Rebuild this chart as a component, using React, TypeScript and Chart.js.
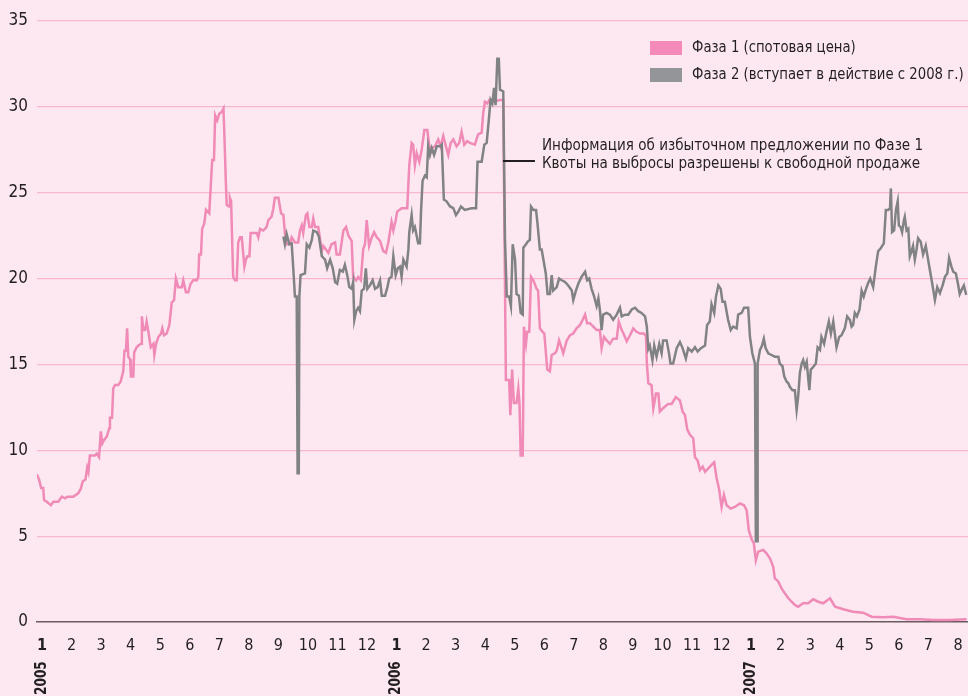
import { useEffect, useRef } from "react";
import { Chart, registerables } from "chart.js";

Chart.register(...registerables);

const FONT = "'Liberation Sans Narrow', 'DejaVu Sans Condensed', 'Arial Narrow', sans-serif";
const TEXT = "#231f20";
const BG = "#fde8f1";

// Months since January 2005 (0 = Jan 2005), value in EUR/t
const phase1: [number, number][] = [
  [-0.18,8.6],[-0.10,8.3],[-0.03,7.8],[0.04,7.8],[0.07,7.1],[0.16,7.0],[0.30,6.8],[0.38,7.0],[0.55,7.0],[0.67,7.3],
  [0.78,7.2],[0.86,7.3],[1.06,7.3],[1.23,7.5],[1.31,7.75],[1.38,8.2],[1.47,8.3],[1.53,9.0],[1.57,8.75],[1.62,9.7],
  [1.79,9.7],[1.85,9.8],[1.93,9.6],[1.99,11.1],[2.04,10.4],[2.10,10.6],[2.19,10.8],[2.28,11.3],[2.30,11.9],[2.37,11.9],
  [2.41,13.6],[2.47,13.8],[2.58,13.8],[2.66,14.0],[2.75,14.6],[2.79,15.8],[2.84,15.8],[2.88,17.1],[2.92,15.45],[2.98,15.3],
  [3.01,14.3],[3.09,14.3],[3.12,15.7],[3.20,16.0],[3.26,16.1],[3.35,16.2],[3.38,17.8],[3.43,17.0],[3.49,17.0],[3.54,17.5],
  [3.61,16.8],[3.68,16.0],[3.77,16.2],[3.80,15.55],[3.86,16.2],[3.94,16.6],[4.03,16.8],[4.07,17.1],[4.13,16.7],[4.22,16.8],
  [4.31,17.3],[4.39,18.6],[4.47,18.75],[4.53,20.0],[4.61,19.5],[4.73,19.5],[4.78,19.9],[4.87,19.2],[4.95,19.2],[5.03,19.7],
  [5.12,19.9],[5.24,19.9],[5.29,20.1],[5.32,21.4],[5.38,21.4],[5.42,22.9],[5.49,23.2],[5.55,24.0],[5.66,23.8],[5.71,25.35],
  [5.76,26.9],[5.82,26.9],[5.86,29.5],[5.93,29.2],[6.00,29.6],[6.08,29.7],[6.14,29.9],[6.17,28.5],[6.22,25.7],[6.25,24.3],
  [6.33,24.2],[6.36,24.7],[6.40,24.5],[6.44,21.9],[6.47,20.1],[6.53,19.9],[6.59,19.9],[6.64,22.1],[6.70,22.4],[6.76,22.4],
  [6.85,20.7],[6.90,21.1],[6.95,21.3],[7.02,21.3],[7.06,22.65],[7.27,22.65],[7.32,22.4],[7.38,22.9],[7.49,22.8],[7.60,23.0],
  [7.66,23.4],[7.77,23.6],[7.83,24.1],[7.88,24.7],[8.00,24.7],[8.03,24.4],[8.09,23.8],[8.17,23.7],[8.22,22.65],[8.28,22.0],
  [8.39,22.0],[8.45,22.4],[8.56,22.1],[8.67,22.1],[8.73,22.8],[8.79,23.1],[8.84,22.65],[8.93,23.7],[8.98,23.8],[9.05,23.0],
  [9.13,23.0],[9.18,23.5],[9.24,23.0],[9.35,23.0],[9.47,21.6],[9.52,21.9],[9.69,21.5],[9.80,22.0],[9.92,22.1],[9.97,21.4],
  [10.08,21.4],[10.20,22.8],[10.29,23.0],[10.37,22.5],[10.48,22.2],[10.53,20.1],[10.63,19.9],[10.70,20.1],[10.79,19.9],[10.87,21.7],
  [10.93,22.0],[10.99,23.4],[11.07,21.9],[11.16,22.4],[11.24,22.7],[11.33,22.4],[11.44,22.2],[11.55,21.6],[11.64,21.5],[11.72,22.1],
  [11.83,23.3],[11.89,22.8],[11.97,23.4],[12.02,23.9],[12.17,24.1],[12.28,24.1],[12.36,24.1],[12.43,26.6],[12.51,27.9],[12.56,27.8],
  [12.62,26.6],[12.68,27.3],[12.77,26.8],[12.85,27.5],[12.94,28.65],[13.04,28.65],[13.11,27.7],[13.19,27.6],[13.30,27.7],[13.41,28.1],
  [13.49,27.7],[13.58,28.3],[13.67,27.7],[13.75,27.2],[13.83,27.9],[13.92,28.1],[14.03,27.7],[14.12,27.9],[14.20,28.55],[14.29,27.8],
  [14.39,28.0],[14.48,27.9],[14.65,27.8],[14.76,28.4],[14.88,28.5],[14.93,29.6],[14.99,30.3],[15.07,30.2],[15.14,30.4],[15.30,30.3],
  [15.49,30.4],[15.61,30.4],[15.70,14.1],[15.81,14.1],[15.85,12.05],[15.91,14.7],[15.97,12.75],[16.06,12.75],[16.12,13.6],[16.16,12.75],
  [16.20,9.7],[16.27,9.7],[16.31,17.2],[16.38,16.2],[16.42,16.9],[16.49,16.9],[16.55,20.1],[16.63,19.9],[16.74,19.4],[16.79,19.3],
  [16.85,17.1],[16.94,16.9],[17.00,16.8],[17.10,14.7],[17.19,14.6],[17.25,15.55],[17.36,15.65],[17.42,15.8],[17.50,16.4],[17.56,16.1],
  [17.64,15.65],[17.76,16.4],[17.87,16.7],[17.98,16.8],[18.09,17.1],[18.21,17.3],[18.30,17.6],[18.38,17.9],[18.45,17.4],[18.54,17.4],
  [18.66,17.2],[18.77,17.0],[18.88,17.0],[18.94,15.95],[19.02,16.6],[19.11,16.4],[19.22,16.2],[19.33,16.5],[19.45,16.5],[19.52,17.5],
  [19.62,17.0],[19.68,16.8],[19.79,16.35],[19.90,16.7],[20.01,17.1],[20.12,16.9],[20.24,16.8],[20.37,16.8],[20.44,16.65],[20.47,15.1],
  [20.52,13.9],[20.63,13.8],[20.69,12.45],[20.78,13.3],[20.86,13.3],[20.91,12.25],[21.02,12.45],[21.19,12.7],[21.31,12.7],[21.45,13.1],
  [21.59,12.9],[21.68,12.25],[21.76,12.05],[21.84,11.2],[21.93,10.9],[22.04,10.7],[22.10,9.6],[22.19,9.4],[22.27,8.85],[22.36,9.05],
  [22.44,8.75],[22.55,8.95],[22.66,9.15],[22.75,9.3],[22.83,8.4],[22.92,7.7],[23.00,6.7],[23.08,7.4],[23.17,6.8],[23.31,6.6],
  [23.45,6.7],[23.62,6.9],[23.76,6.8],[23.85,6.5],[23.92,5.35],[24.02,4.8],[24.09,4.6],[24.16,3.6],[24.24,4.1],[24.41,4.2],
  [24.52,4.0],[24.64,3.7],[24.75,3.2],[24.80,2.55],[24.92,2.35],[25.03,1.96],[25.14,1.67],[25.26,1.38],[25.37,1.18],[25.48,0.99],
  [25.59,0.89],[25.76,1.09],[25.93,1.09],[26.10,1.32],[26.27,1.18],[26.44,1.09],[26.67,1.38],[26.84,0.89],[27.12,0.74],[27.45,0.6],
  [27.79,0.54],[28.08,0.31],[28.47,0.27],[28.81,0.31],[29.26,0.16],[29.71,0.16],[30.16,0.12],[30.73,0.12],[31.29,0.16],
];

const phase2: [number, number][] = [
  [8.17,22.45],[8.22,22.0],[8.28,22.6],[8.37,22.0],[8.45,22.05],[8.50,20.7],[8.56,18.95],[8.62,18.95],[8.65,8.66],[8.69,8.66],
  [8.71,18.95],[8.75,20.2],[8.90,20.3],[8.96,22.0],[9.05,21.8],[9.13,22.25],[9.18,22.8],[9.30,22.7],[9.37,22.45],[9.47,21.3],
  [9.58,21.1],[9.65,20.6],[9.75,21.1],[9.84,20.6],[9.92,19.8],[9.99,19.7],[10.08,20.5],[10.18,20.4],[10.25,20.8],[10.33,20.2],
  [10.40,19.5],[10.48,19.4],[10.53,19.8],[10.57,17.6],[10.63,18.1],[10.70,18.3],[10.76,18.1],[10.82,19.3],[10.90,19.4],[10.96,20.6],
  [11.01,19.4],[11.10,19.6],[11.19,19.9],[11.27,19.4],[11.36,19.5],[11.44,19.9],[11.50,19.0],[11.61,19.0],[11.69,19.5],[11.75,20.0],
  [11.83,20.1],[11.89,21.3],[11.97,20.2],[12.04,20.6],[12.12,20.7],[12.17,20.1],[12.23,21.1],[12.34,20.7],[12.40,21.7],[12.43,22.7],
  [12.51,23.7],[12.56,22.8],[12.62,23.0],[12.68,22.5],[12.73,22.05],[12.79,22.05],[12.83,24.0],[12.88,25.7],[12.96,26.0],[13.02,25.9],
  [13.07,27.7],[13.13,27.2],[13.19,27.6],[13.27,27.2],[13.36,27.7],[13.47,27.7],[13.53,27.8],[13.60,24.6],[13.69,24.5],[13.81,24.2],
  [13.92,24.1],[14.01,23.7],[14.09,23.9],[14.18,24.2],[14.31,24.0],[14.54,24.1],[14.69,24.1],[14.74,26.8],[14.88,26.8],[14.97,27.8],
  [15.05,27.9],[15.13,29.4],[15.18,30.4],[15.24,30.2],[15.30,31.1],[15.35,30.1],[15.41,32.8],[15.46,32.8],[15.50,31.0],[15.61,30.9],
  [15.67,22.25],[15.73,18.95],[15.81,18.95],[15.87,18.4],[15.93,22.0],[16.01,21.1],[16.06,19.1],[16.14,19.0],[16.20,18.0],[16.27,17.9],
  [16.29,21.8],[16.38,22.0],[16.44,22.15],[16.51,22.25],[16.55,24.2],[16.63,24.0],[16.72,24.0],[16.77,23.2],[16.85,21.7],[16.91,21.7],
  [16.96,21.2],[17.05,20.3],[17.11,19.1],[17.19,19.1],[17.25,20.2],[17.30,19.3],[17.42,19.5],[17.50,20.0],[17.59,19.9],[17.70,19.8],
  [17.81,19.6],[17.93,19.3],[17.98,18.75],[18.07,19.3],[18.15,19.7],[18.26,20.1],[18.38,20.4],[18.45,19.9],[18.52,20.0],[18.60,19.4],
  [18.68,19.0],[18.77,18.4],[18.83,18.85],[18.88,18.2],[18.94,17.0],[18.99,17.9],[19.11,18.0],[19.22,17.9],[19.33,17.6],[19.45,17.9],
  [19.56,18.3],[19.62,17.8],[19.73,17.9],[19.84,17.9],[19.96,18.2],[20.07,18.3],[20.18,18.1],[20.29,18.0],[20.41,17.8],[20.47,17.2],
  [20.52,15.9],[20.57,16.1],[20.66,15.25],[20.72,16.1],[20.80,15.45],[20.89,16.2],[20.97,15.65],[21.02,16.4],[21.14,16.4],[21.22,15.65],
  [21.27,15.05],[21.36,15.05],[21.48,15.95],[21.59,16.3],[21.68,15.95],[21.79,15.35],[21.87,15.95],[21.99,15.75],[22.10,16.0],[22.19,15.75],
  [22.30,15.95],[22.44,16.1],[22.51,17.3],[22.60,17.5],[22.66,18.5],[22.75,18.0],[22.81,18.95],[22.89,19.6],[22.97,19.4],[23.03,18.65],
  [23.11,18.65],[23.22,17.6],[23.31,17.0],[23.39,17.2],[23.51,17.1],[23.56,17.9],[23.68,18.0],[23.76,18.3],[23.90,18.3],[23.96,16.6],
  [24.04,15.65],[24.13,15.05],[24.16,4.7],[24.20,4.7],[24.22,15.05],[24.30,15.85],[24.37,16.1],[24.43,16.5],[24.49,15.95],[24.58,15.65],
  [24.69,15.55],[24.80,15.45],[24.92,15.45],[24.97,15.05],[25.06,14.9],[25.12,14.3],[25.20,14.0],[25.26,13.9],[25.31,13.7],[25.40,13.5],
  [25.48,13.5],[25.54,12.35],[25.59,13.1],[25.65,14.5],[25.71,15.05],[25.76,15.25],[25.82,14.85],[25.88,15.15],[25.97,13.5],[26.02,14.7],
  [26.10,14.85],[26.19,15.05],[26.25,16.0],[26.33,15.85],[26.38,16.6],[26.47,16.2],[26.55,16.9],[26.63,17.5],[26.70,16.8],[26.78,17.5],
  [26.89,16.0],[26.98,16.6],[27.06,16.7],[27.17,17.1],[27.25,17.8],[27.34,17.6],[27.40,17.2],[27.45,17.3],[27.51,18.0],[27.58,17.8],
  [27.67,18.2],[27.74,19.3],[27.81,18.95],[27.87,19.3],[27.95,19.7],[28.03,20.0],[28.13,19.5],[28.22,20.7],[28.30,21.6],[28.38,21.75],
  [28.49,22.05],[28.56,24.0],[28.64,24.0],[28.70,24.1],[28.73,25.25],[28.77,22.7],[28.84,22.8],[28.90,24.0],[28.96,24.5],[29.00,23.1],
  [29.06,23.0],[29.11,22.7],[29.17,23.4],[29.20,23.6],[29.26,22.8],[29.32,22.9],[29.37,21.3],[29.43,21.6],[29.48,21.9],[29.54,21.1],
  [29.60,21.7],[29.65,22.35],[29.74,22.15],[29.82,21.4],[29.91,21.9],[29.99,21.1],[30.05,20.5],[30.11,19.9],[30.22,18.75],[30.30,19.5],
  [30.39,19.15],[30.48,19.6],[30.56,20.1],[30.64,20.3],[30.70,21.2],[30.78,20.7],[30.84,20.4],[30.93,20.3],[31.00,19.7],[31.06,19.1],
  [31.14,19.4],[31.20,19.6],[31.28,19.05],
];

const monthLabels = [
  "1","2","3","4","5","6","7","8","9","10","11","12",
  "1","2","3","4","5","6","7","8","9","10","11","12",
  "1","2","3","4","5","6","7","8",
];
const yearTickMonths = [0, 12, 24];
const yearLabels = ["2005", "2006", "2007"];
const yTickValues = [0, 5, 10, 15, 20, 25, 30, 35];
const seriesNames = ["Фаза 1 (спотовая цена)", "Фаза 2 (вступает в действие с 2008 г.)"];
const seriesColors = ["#f08ab7", "#808284"];
const legendColors = ["#f48ab9", "#939598"];
const noteLines = [
  "Информация об избыточном предложении по Фазе 1",
  "Квоты на выбросы разрешены к свободной продаже",
];
const noteMonth = 15.6;
const noteValue = 26.85;

function condensedText(ctx: any, text: string, x: number, y: number, squeeze: number) {
  ctx.save();
  ctx.translate(x, y);
  ctx.scale(squeeze, 1);
  ctx.fillText(text, 0, 0);
  ctx.restore();
}

const overlayPlugin = {
  id: "overlay",
  beforeDraw(chart: any) {
    const ctx = chart.ctx;
    ctx.save();
    ctx.fillStyle = BG;
    ctx.fillRect(0, 0, chart.width, chart.height);
    ctx.restore();
  },
  afterDraw(chart: any) {
    const { ctx } = chart;
    const x = chart.scales.x;
    const y = chart.scales.y;
    ctx.save();
    ctx.fillStyle = TEXT;
    // year labels (rotated)
    ctx.font = `bold 15px ${FONT}`;
    yearTickMonths.forEach((m, i) => {
      const px = x.getPixelForValue(m);
      ctx.save();
      ctx.translate(px, 695);
      ctx.rotate(-Math.PI / 2);
      ctx.scale(0.9, 1);
      ctx.textAlign = "left";
      ctx.textBaseline = "middle";
      ctx.fillText(yearLabels[i], 0, 0);
      ctx.restore();
    });
    // legend
    ctx.font = `16px ${FONT}`;
    ctx.textAlign = "left";
    ctx.textBaseline = "middle";
    seriesNames.forEach((name, i) => {
      const top = 41 + i * 27;
      ctx.fillStyle = legendColors[i];
      ctx.fillRect(650, top, 32, 14);
      ctx.fillStyle = TEXT;
      condensedText(ctx, name, 692, top + 7, 0.92);
    });
    // annotation
    const ax = x.getPixelForValue(noteMonth);
    const ay = Math.round(y.getPixelForValue(noteValue));
    ctx.strokeStyle = "#231f20";
    ctx.lineWidth = 2;
    ctx.beginPath();
    ctx.moveTo(ax, ay);
    ctx.lineTo(ax + 32, ay);
    ctx.stroke();
    ctx.font = `16px ${FONT}`;
    ctx.fillStyle = TEXT;
    condensedText(ctx, noteLines[0], ax + 39, ay - 15, 0.94);
    condensedText(ctx, noteLines[1], ax + 39, ay + 3, 0.94);
    ctx.restore();
  },
};

export default function App() {
  const ref = useRef<HTMLCanvasElement | null>(null);
  useEffect(() => {
    document.body.style.margin = "0";
    const canvas = ref.current;
    if (!canvas) return;
    const chart = new Chart(canvas, {
      type: "line",
      data: {
        datasets: [
          {
            label: seriesNames[0],
            data: phase1.map(([m, v]) => ({ x: m, y: v })),
            borderColor: seriesColors[0],
            borderWidth: 2.5,
            pointRadius: 0,
            tension: 0,
            order: 1,
          },
          {
            label: seriesNames[1],
            data: phase2.map(([m, v]) => ({ x: m, y: v })),
            borderColor: seriesColors[1],
            borderWidth: 2.5,
            pointRadius: 0,
            tension: 0,
            order: 0,
          },
        ],
      },
      options: {
        animation: false,
        responsive: false,
        devicePixelRatio: 1,
        layout: { padding: { top: 21, left: 0, right: 0, bottom: 0 } },
        plugins: { legend: { display: false }, tooltip: { enabled: false } },
        scales: {
          x: {
            type: "linear",
            min: -0.17,
            max: 31.34,
            afterBuildTicks: (scale: any) => {
              scale.ticks = monthLabels.map((_, i) => ({ value: i }));
            },
            afterFit: (scale: any) => {
              scale.height = 74;
            },
            grid: { display: false, drawTicks: false },
            border: { display: true, color: "#6b5b61", width: 1.5 },
            ticks: {
              autoSkip: false,
              maxRotation: 0,
              padding: 0,
              color: TEXT,
              font: (c: any) => ({
                family: FONT,
                size: 16,
                lineHeight: 2.95,
                weight: c.tick && c.tick.value % 12 === 0 ? "bold" : "normal",
              }),
              callback: (v: any) => monthLabels[Math.round(v)] ?? "",
            },
          },
          y: {
            min: 0,
            max: 35,
            afterBuildTicks: (scale: any) => {
              scale.ticks = yTickValues.map((v) => ({ value: v }));
            },
            afterFit: (scale: any) => {
              scale.width = 37;
            },
            grid: {
              drawTicks: false,
              color: (c: any) => (c.tick && c.tick.value === 0 ? "rgba(0,0,0,0)" : "#f6b7cf"),
              lineWidth: 1.2,
            },
            border: { display: false },
            ticks: {
              padding: 9,
              color: TEXT,
              font: { family: FONT, size: 17 },
            },
          },
        },
      },
      plugins: [overlayPlugin],
    });
    return () => chart.destroy();
  }, []);
  return (
    <div style={{ width: 968, height: 696, background: BG }}>
      <canvas ref={ref} width={968} height={696} style={{ display: "block" }} />
    </div>
  );
}
